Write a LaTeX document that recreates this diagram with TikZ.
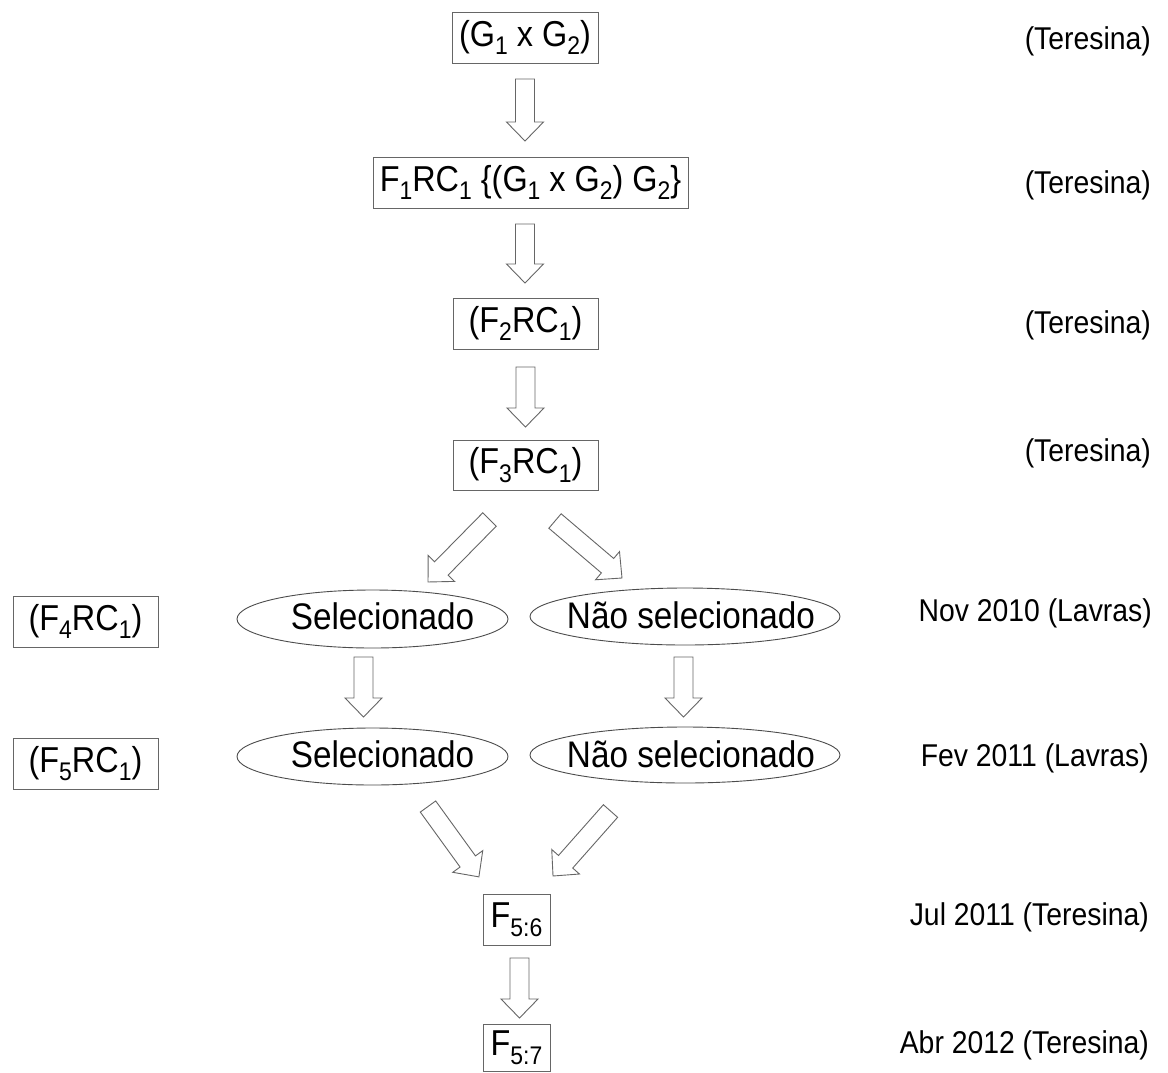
\documentclass[tikz,border=0pt]{standalone}
\usepackage{fontspec}
\setmainfont{Liberation Sans}[FakeStretch=0.9]
\usetikzlibrary{shapes.geometric,calc}
\newcommand\sub[1]{\raisebox{-0.24em}{\fontsize{25.5pt}{25pt}\selectfont #1}}
\newcommand\barrow[2]{%
  \pgfpointdiff{\pgfpointanchor{#1}{center}}{\pgfpointanchor{#2}{center}}%
  \pgfgetlastxy{\bax}{\bay}%
  \pgfmathsetmacro\balen{veclen(\bax,\bay)}%
  \pgfmathsetmacro\baang{atan2(\bay,\bax)}%
  \pgfmathsetmacro\bahb{\balen-19}%
  \draw[blockarr,shift={(#1)},rotate=\baang] (0pt,9.5pt) -- (\bahb pt,9.5pt) -- (\bahb pt,18.5pt) -- (\balen pt,0pt) -- (\bahb pt,-18.5pt) -- (\bahb pt,-9.5pt) -- (0pt,-9.5pt) -- cycle;
}
\tikzset{
  boxnode/.style={draw=black!60, line width=1pt, inner sep=0pt, font=\fontsize{36pt}{44pt}\selectfont},
  ellnode/.style={ellipse, draw=black!70, line width=0.9pt, inner sep=0pt},
  elltext/.style={inner sep=0pt, font=\fontsize{37pt}{44pt}\selectfont},
  lbl/.style={anchor=east, inner sep=0pt, font=\fontsize{31.5pt}{36pt}\selectfont},
  blockarr/.style={draw=black!60, line width=0.9pt, fill=white, line join=miter},
}
\begin{document}
\begin{tikzpicture}[x=1pt,y=1pt]
\useasboundingbox[fill=white] (0,0) rectangle (1168,-1072);
% main column boxes
\node[boxnode, minimum width=146pt, minimum height=51pt] (b1) at (525,-37.5) {(G\sub{1} x G\sub{2})};
\node[boxnode, minimum width=315pt, minimum height=51pt] (b2) at (530.5,-182.5) {F\sub{1}RC\sub{1} \{(G\sub{1} x G\sub{2}) G\sub{2}\}};
\node[boxnode, minimum width=145pt, minimum height=51pt] (b3) at (525.5,-323.5) {(F\sub{2}RC\sub{1})};
\node[boxnode, minimum width=145pt, minimum height=50pt] (b4) at (525.5,-465) {(F\sub{3}RC\sub{1})};
% ellipses
\node[ellnode, minimum width=271pt, minimum height=58pt] (e1) at (372.5,-619) {};
\node[ellnode, minimum width=310pt, minimum height=57pt] (e2) at (685,-616.5) {};
\node[ellnode, minimum width=271pt, minimum height=57pt] (e3) at (372.5,-756.5) {};
\node[ellnode, minimum width=310pt, minimum height=56pt] (e4) at (685,-755) {};
\node[elltext] (t1) at ($(e1.center)+(10,3)$) {Selecionado};
\node[elltext] (t2) at ($(e2.center)+(6,1)$) {Não selecionado};
\node[elltext] (t3) at ($(e3.center)+(10,2)$) {Selecionado};
\node[elltext] (t4) at ($(e4.center)+(6,1)$) {Não selecionado};
% left boxes
\node[boxnode, minimum width=145pt, minimum height=51pt] (l1) at (85.5,-621.5) {(F\sub{4}RC\sub{1})};
\node[boxnode, minimum width=145pt, minimum height=51pt] (l2) at (85.5,-763.5) {(F\sub{5}RC\sub{1})};
% bottom boxes
\node[boxnode, minimum width=67pt, minimum height=51pt] (f6) at (516.5,-919.5) {F\sub{5:6}};
\node[boxnode, minimum width=67pt, minimum height=47pt] (f7) at (516.5,-1048) {F\sub{5:7}};
% right labels
\node[lbl] (r1) at (1151,-41) {(Teresina)};
\node[lbl] (r2) at (1151,-185) {(Teresina)};
\node[lbl] (r3) at (1151,-325) {(Teresina)};
\node[lbl] (r4) at (1151,-453) {(Teresina)};
\node[lbl] (r5) at (1152,-613) {Nov 2010 (Lavras)};
\node[lbl] (r6) at (1149,-758) {Fev 2011 (Lavras)};
\node[lbl] (r7) at (1149,-917) {Jul 2011 (Teresina)};
\node[lbl] (r8) at (1149,-1045) {Abr 2012 (Teresina)};
% arrow end points
\coordinate (a1s) at (525,-79);    \coordinate (a1e) at (525,-141);
\coordinate (a2s) at (525,-224);   \coordinate (a2e) at (525,-283);
\coordinate (a3s) at (525.5,-367); \coordinate (a3e) at (525.5,-427);
\coordinate (d1s) at (489.5,-519.5); \coordinate (d1e) at (428,-582);
\coordinate (d2s) at (555,-521);   \coordinate (d2e) at (622,-578);
\coordinate (v1s) at (363.5,-657); \coordinate (v1e) at (363.5,-717);
\coordinate (v2s) at (683.5,-657); \coordinate (v2e) at (683.5,-717);
\coordinate (d3s) at (428,-806.5); \coordinate (d3e) at (479,-877);
\coordinate (d4s) at (610.5,-811); \coordinate (d4e) at (553,-876);
\coordinate (a4s) at (519.5,-958); \coordinate (a4e) at (519.5,-1018);
\barrow{a1s}{a1e}
\barrow{a2s}{a2e}
\barrow{a3s}{a3e}
\barrow{d1s}{d1e}
\barrow{d2s}{d2e}
\barrow{v1s}{v1e}
\barrow{v2s}{v2e}
\barrow{d3s}{d3e}
\barrow{d4s}{d4e}
\barrow{a4s}{a4e}
\end{tikzpicture}
\end{document}
